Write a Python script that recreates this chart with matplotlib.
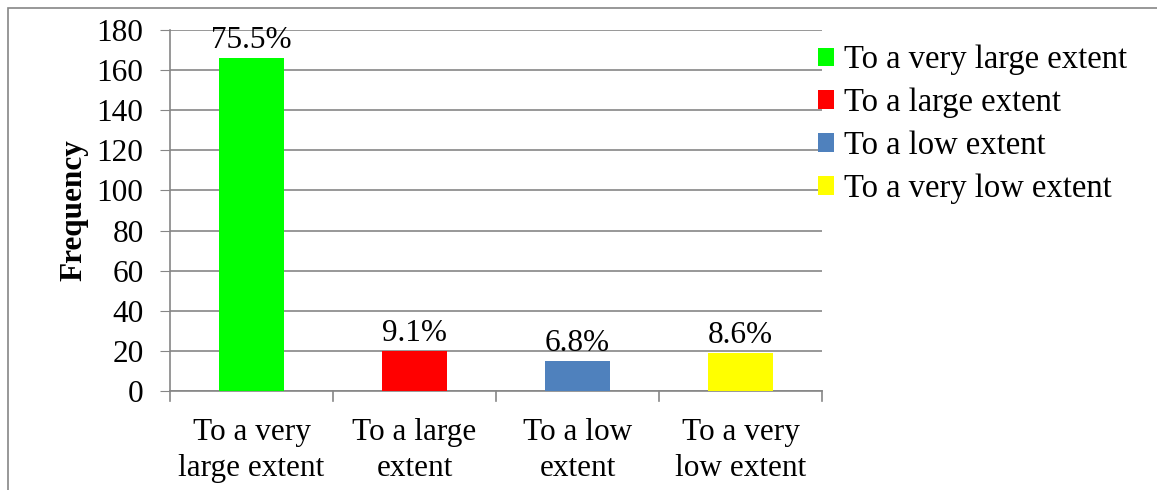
"""
Bar chart of response frequencies with percentage labels and a side legend.
"""

import matplotlib.pyplot as plt
from matplotlib.patches import Patch, Rectangle

categories = ["To a very large extent", "To a large extent",
              "To a low extent", "To a very low extent"]
tick_labels = ["To a very\nlarge extent", "To a large\nextent",
               "To a low\nextent", "To a very\nlow extent"]
frequencies = [166, 20, 15, 19]
percent_labels = ["75.5%", "9.1%", "6.8%", "8.6%"]
colors = ["#00FF00", "#FF0000", "#4F81BD", "#FFFF00"]

GRID = "#868686"

plt.rcParams["font.family"] = ["Liberation Serif", "DejaVu Serif"]

fig = plt.figure(figsize=(11.57, 4.9), dpi=100)
ax = fig.add_axes([0.1469, 0.2020, 0.5636, 0.7368])

x = list(range(len(categories)))
bars = ax.bar(x, frequencies, width=0.4, color=colors, zorder=3)

for bar, label in zip(bars, percent_labels):
    ax.annotate(label, (bar.get_x() + bar.get_width() / 2, bar.get_height()),
                xytext=(0, 2), textcoords="offset points",
                ha="center", va="bottom", fontsize=22.5, zorder=4)

ax.set_xlim(-0.5, len(categories) - 0.5)
ax.set_ylim(0, 180)
ax.set_yticks(range(0, 181, 20))
ax.tick_params(axis="y", labelsize=22.5, length=7, color=GRID, pad=12)

# category labels sit between the boundary ticks
ax.set_xticks(x)
ax.set_xticklabels(tick_labels, fontsize=22.5, linespacing=1.33)
ax.tick_params(axis="x", length=0, pad=19.5)
for b in [i - 0.5 for i in range(len(categories) + 1)]:
    ax.plot([b, b], [0, -5], color=GRID, lw=1.2, clip_on=False, zorder=2)

ax.yaxis.grid(True, color=GRID, lw=1.2, zorder=0)
for side in ["top", "right"]:
    ax.spines[side].set_visible(False)
ax.spines["left"].set_color(GRID)
ax.spines["bottom"].set_color(GRID)
ax.spines["left"].set_linewidth(1.2)
ax.spines["bottom"].set_linewidth(1.2)

ax.set_ylabel("Frequency", fontsize=22.5, fontweight="bold", labelpad=6)

handles = [Patch(facecolor=c, edgecolor="none") for c in colors]
fig.legend(handles, categories, loc="upper left",
           bbox_to_anchor=(0.6956, 0.935), frameon=False, fontsize=23.5,
           handlelength=0.5, handleheight=0.5, handletextpad=0.3,
           labelspacing=0.38, borderaxespad=0)

# outer chart frame
fig.add_artist(Rectangle((8 / 1157, -0.1), 1.2, 1.1 - 8 / 490,
                         transform=fig.transFigure, fill=False,
                         edgecolor=GRID, lw=1.2))

fig.savefig("out.png", dpi=100)
